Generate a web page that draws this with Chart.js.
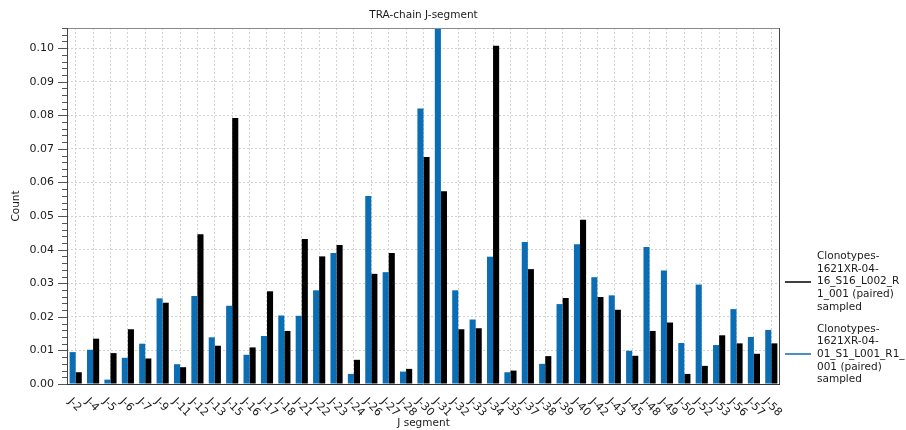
<!DOCTYPE html>
<html>
<head>
<meta charset="utf-8">
<script src="https://cdn.jsdelivr.net/npm/chart.js@4/dist/chart.umd.min.js"></script>
<style>
  html, body { margin: 0; padding: 0; background: #fff; }
  #wrap { width: 906px; height: 430px; }
</style>
</head>
<body>
<div id="wrap"><canvas id="chart" width="906" height="430"></canvas></div>
<script>
// J segments on the category axis
const segments = ['J-2','J-4','J-5','J-6','J-7','J-9','J-11','J-12','J-13','J-15','J-16','J-17','J-18','J-21',
  'J-22','J-23','J-24','J-26','J-27','J-28','J-30','J-31','J-32','J-33','J-34','J-35','J-37','J-38','J-39',
  'J-40','J-42','J-43','J-45','J-48','J-49','J-50','J-52','J-53','J-56','J-57','J-58'];

// Clonotypes-1621XR-04-01_S1_L001_R1_001 (paired) sampled
const sampleS1 = [0.0095,0.0102,0.0013,0.0078,0.0120,0.0255,0.0059,0.0262,0.0139,0.0233,0.0087,0.0143,0.0204,0.0203,
  0.0279,0.0390,0.0030,0.0560,0.0333,0.0037,0.0820,0.1060,0.0279,0.0192,0.0379,0.0035,0.0423,0.0060,0.0238,
  0.0416,0.0318,0.0264,0.0099,0.0408,0.0338,0.0122,0.0296,0.0116,0.0223,0.0140,0.0161];

// Clonotypes-1621XR-04-16_S16_L002_R1_001 (paired) sampled
const sampleS16 = [0.0035,0.0135,0.0092,0.0163,0.0076,0.0242,0.0050,0.0446,0.0114,0.0792,0.0109,0.0276,0.0158,0.0432,
  0.0380,0.0414,0.0072,0.0328,0.0390,0.0045,0.0676,0.0574,0.0163,0.0166,0.1007,0.0040,0.0342,0.0083,0.0256,
  0.0489,0.0259,0.0221,0.0084,0.0158,0.0183,0.0030,0.0054,0.0145,0.0121,0.0090,0.0121];

// Legend entries, wrapped the way they are shown beside the plot
const legendS16 = ['Clonotypes-', '1621XR-04-', '16_S16_L002_R', '1_001 (paired)', 'sampled'];
const legendS1 = ['Clonotypes-', '1621XR-04-', '01_S1_L001_R1_', '001 (paired)', 'sampled'];

const chartTitle = 'TRA-chain J-segment';
const xTitle = 'J segment';
const yTitle = 'Count';

const yMax = 0.106;
const yMinorStep = 0.002;   // minor tick spacing
const minorPerMajor = 5;    // labelled tick every 0.01

const BLUE = '#0b6db3';
const BLACK = '#000000';
const TEXT = '#1a1a1a';
const FONT = '"DejaVu Sans", sans-serif';

const isMajor = (v) => Math.round(v / yMinorStep) % minorPerMajor === 0;

// Frame, tick marks, rotated category labels, titles and legend
const decorations = {
  id: 'decorations',
  afterDraw(chart) {
    const { ctx, chartArea: a, scales: { x, y } } = chart;
    ctx.save();

    // plot frame
    ctx.lineWidth = 1;
    ctx.strokeStyle = '#8a8a8a';
    ctx.beginPath(); ctx.moveTo(a.left, a.top + 0.5); ctx.lineTo(a.right, a.top + 0.5); ctx.stroke();
    ctx.strokeStyle = '#444';
    ctx.beginPath();
    ctx.moveTo(a.left + 0.5, a.top); ctx.lineTo(a.left + 0.5, a.bottom);
    ctx.moveTo(a.right - 0.5, a.top); ctx.lineTo(a.right - 0.5, a.bottom);
    ctx.stroke();
    ctx.strokeStyle = '#333';
    ctx.beginPath(); ctx.moveTo(a.left, a.bottom + 0.5); ctx.lineTo(a.right, a.bottom + 0.5); ctx.stroke();

    // y tick marks: long at labelled values, short in between
    ctx.strokeStyle = '#555';
    const n = Math.round(yMax / yMinorStep);
    ctx.beginPath();
    for (let i = 0; i <= n; i++) {
      const py = Math.round(y.getPixelForValue(i * yMinorStep)) + 0.5;
      const len = i % minorPerMajor === 0 ? 9 : 5;
      ctx.moveTo(a.left - len, py); ctx.lineTo(a.left, py);
    }
    ctx.stroke();

    // rotated category labels
    ctx.fillStyle = TEXT;
    ctx.font = '11px ' + FONT;
    ctx.textAlign = 'left';
    ctx.textBaseline = 'middle';
    segments.forEach((lab, i) => {
      const px = x.getPixelForValue(i);
      ctx.save();
      ctx.translate(px - 6, a.bottom + 16);
      ctx.rotate(Math.PI / 4);
      ctx.fillText(lab, 0, 0);
      ctx.restore();
    });

    // titles
    ctx.textAlign = 'center';
    ctx.font = '10.5px ' + FONT;
    ctx.fillText(chartTitle, (a.left + a.right) / 2, 15);
    ctx.fillText(xTitle, (a.left + a.right) / 2, 423);
    ctx.save();
    ctx.translate(16, 206);
    ctx.rotate(-Math.PI / 2);
    ctx.fillText(yTitle, 0, 0);
    ctx.restore();

    // legend
    const drawEntry = (lines, color, top) => {
      const lh = 12.6;
      ctx.font = '10.5px ' + FONT;
      ctx.textAlign = 'left';
      ctx.fillStyle = TEXT;
      lines.forEach((t, k) => ctx.fillText(t, 817, top + k * lh));
      ctx.strokeStyle = color;
      ctx.lineWidth = 1.5;
      const ly = Math.round(top + 2 * lh);
      ctx.beginPath(); ctx.moveTo(785, ly); ctx.lineTo(811, ly); ctx.stroke();
    };
    drawEntry(legendS16, BLACK, 256.5);
    drawEntry(legendS1, BLUE, 329);

    ctx.restore();
  }
};

new Chart(document.getElementById('chart'), {
  type: 'bar',
  data: {
    labels: segments,
    datasets: [
      { label: 'Clonotypes-1621XR-04-01_S1_L001_R1_001 (paired) sampled', data: sampleS1, backgroundColor: BLUE },
      { label: 'Clonotypes-1621XR-04-16_S16_L002_R1_001 (paired) sampled', data: sampleS16, backgroundColor: BLACK }
    ]
  },
  options: {
    responsive: false,
    devicePixelRatio: 1,
    animation: false,
    layout: { padding: { top: 28, right: 126, bottom: 0, left: 0 } },
    datasets: { bar: { categoryPercentage: 0.7, barPercentage: 1.0 } },
    plugins: { legend: { display: false }, title: { display: false }, tooltip: { enabled: false } },
    scales: {
      x: {
        offset: true,
        grid: { offset: false, color: '#d2d2d2', drawTicks: false },
        border: { display: false, dash: [2, 2] },
        ticks: { display: false },
        afterFit(s) { s.height = 46; }
      },
      y: {
        min: 0,
        max: yMax,
        grid: {
          drawTicks: false,
          color: (c) => (c.tick && isMajor(c.tick.value) && c.tick.value > 0) ? '#d2d2d2' : 'rgba(0,0,0,0)'
        },
        border: { display: false, dash: [2, 2] },
        ticks: {
          stepSize: yMinorStep,
          padding: 13,
          color: TEXT,
          font: { family: 'DejaVu Sans', size: 11 },
          autoSkip: false,
          callback: (v) => isMajor(v) ? Number(v).toFixed(2) : ''
        },
        afterFit(s) { s.width = 67; }
      }
    }
  },
  plugins: [decorations]
});
</script>
</body>
</html>
